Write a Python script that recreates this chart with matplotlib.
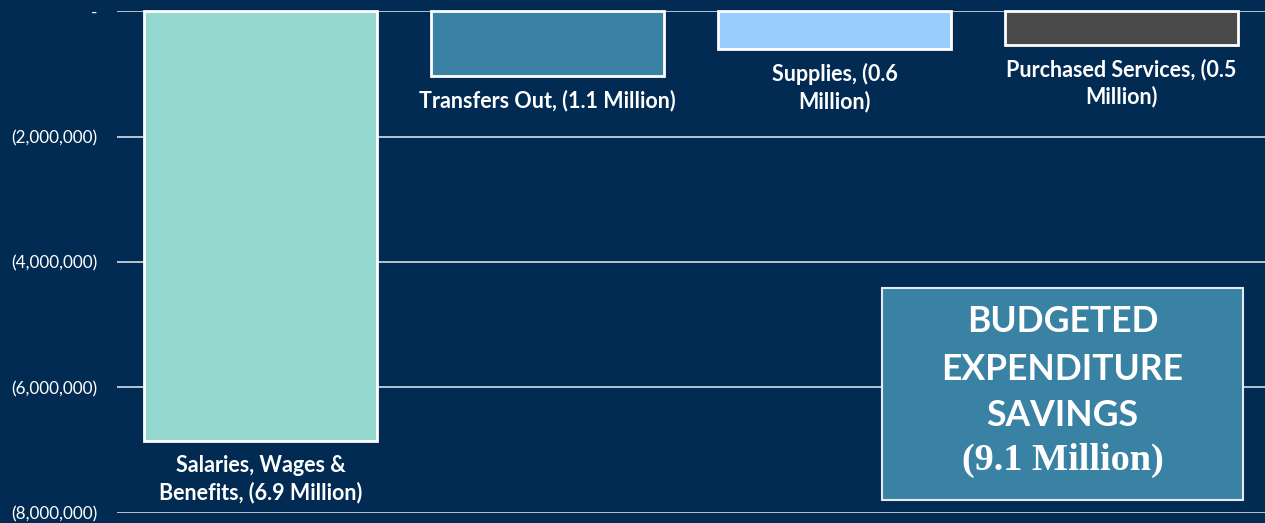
import matplotlib.pyplot as plt
from matplotlib.ticker import FuncFormatter

# data
categories = ["Salaries, Wages &\nBenefits, (6.9 Million)",
              "Transfers Out, (1.1 Million)",
              "Supplies, (0.6\nMillion)",
              "Purchased Services, (0.5\nMillion)"]
values = [-6860000, -1040000, -610000, -540000]
colors = ["#93D7CF", "#3A82A3", "#99CCFF", "#4A4A4A"]
yticks = [0, -2000000, -4000000, -6000000, -8000000]

bg = "#012B52"
plt.rcParams['font.family'] = ['Lato', 'DejaVu Sans']

fig = plt.figure(figsize=(12.65, 5.23), dpi=100, facecolor=bg)
ax = fig.add_axes([117 / 1265, 10 / 523, 1148 / 1265, 502 / 523])
ax.set_facecolor(bg)

x = range(len(values))
ax.bar(x, values, width=0.81, color=colors, edgecolor="white",
       linewidth=2, zorder=3, clip_on=False)

for i, (v, lab) in enumerate(zip(values, categories)):
    ax.annotate(lab, (i, v), xytext=(0, -10), textcoords="offset points",
                ha="center", va="top", color="white", fontsize=15.5,
                fontweight="bold", linespacing=1.32)

ax.set_xlim(-0.5, len(values) - 0.5)
ax.set_ylim(-8000000, 0)
ax.set_yticks(yticks)


def fmt(v, pos):
    if v == 0:
        return "-"
    return "({:,.0f})".format(abs(v))


ax.yaxis.set_major_formatter(FuncFormatter(fmt))
ax.tick_params(axis="y", length=0, pad=14, labelcolor="white", labelsize=12.3)
ax.set_xticks([])
ax.grid(axis="y", color="#C8CFDA", linewidth=1.3, zorder=0)
for s in ax.spines.values():
    s.set_visible(False)

# summary box
box_x, box_y, box_w, box_h = 882 / 1265, 1 - 500 / 523, 361 / 1265, 212 / 523
rect = plt.Rectangle((box_x, box_y), box_w, box_h, transform=fig.transFigure,
                     facecolor="#3A82A3", edgecolor="#E6EAF0", linewidth=1.5,
                     zorder=5)
fig.patches.append(rect)
cx = box_x + box_w / 2
for line, yp in [("BUDGETED", 322), ("EXPENDITURE", 369), ("SAVINGS", 416)]:
    fig.text(cx, 1 - yp / 523, line, ha="center", va="center",
             color="white", fontsize=25.6, fontweight="bold", zorder=6)
fig.text(cx, 1 - 460 / 523, "(9.1 Million)", ha="center", va="center",
         color="white", fontsize=27.5, fontweight="bold",
         family="Liberation Serif", zorder=6)

fig.savefig("out.png", dpi=100, facecolor=bg)
